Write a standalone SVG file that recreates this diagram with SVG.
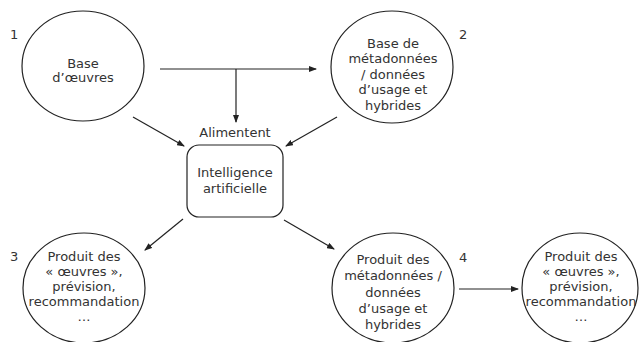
<svg xmlns="http://www.w3.org/2000/svg" width="640" height="342" viewBox="0 0 640 342">
<defs>
<marker id="ah" markerWidth="8" markerHeight="6" refX="7" refY="3" orient="auto" markerUnits="userSpaceOnUse">
<path d="M0,0 L8,3 L0,6 Z" fill="#222"/>
</marker>
<style>
.n{fill:#fff;stroke:#222;stroke-width:1.2}
.t{font-family:"DejaVu Sans",sans-serif;font-size:13px;fill:#333;text-anchor:middle}
.num{font-family:"DejaVu Sans",sans-serif;font-size:13px;fill:#333}
.c{stroke:#222;stroke-width:1.2;fill:none}
.a{marker-end:url(#ah)}
</style>
</defs>
<rect width="640" height="342" fill="#fff"/>
<g id="connectors">
<line class="c a" x1="160" y1="69" x2="316" y2="69"/>
<line class="c a" x1="236" y1="69" x2="236" y2="122"/>
<line class="c a" x1="133" y1="117" x2="184" y2="146"/>
<line class="c a" x1="337" y1="117" x2="286" y2="146"/>
<line class="c a" x1="183" y1="219" x2="145" y2="250"/>
<line class="c a" x1="284" y1="220" x2="334" y2="249"/>
<line class="c a" x1="459" y1="289" x2="518" y2="289"/>
<text class="t" x="235" y="137">Alimentent</text>
</g>
<g id="n1">
<ellipse class="n" cx="83" cy="66" rx="61" ry="55"/>
<text class="t" x="83" y="68">Base</text>
<text class="t" x="83" y="82">d’œuvres</text>
<text class="num" x="10" y="39">1</text>
</g>
<g id="n2">
<ellipse class="n" cx="392" cy="67" rx="61" ry="56"/>
<text class="t" x="393" y="48">Base de</text>
<text class="t" x="393" y="63">métadonnées</text>
<text class="t" x="393" y="79">/ données</text>
<text class="t" x="393" y="94">d’usage et</text>
<text class="t" x="393" y="110">hybrides</text>
<text class="num" x="459" y="39">2</text>
</g>
<g id="ia">
<rect class="n" x="187" y="145" width="96" height="72" rx="12"/>
<text class="t" x="235" y="177">Intelligence</text>
<text class="t" x="235" y="193">artificielle</text>
</g>
<g id="n3">
<ellipse class="n" cx="84" cy="288" rx="61" ry="55"/>
<text class="t" x="84" y="261">Produit des</text>
<text class="t" x="84" y="276">« œuvres »,</text>
<text class="t" x="84" y="291">prévision,</text>
<text class="t" x="84" y="306">recommandation</text>
<text class="t" x="84" y="321">…</text>
<text class="num" x="10" y="261">3</text>
</g>
<g id="n4">
<ellipse class="n" cx="393" cy="288" rx="61" ry="55"/>
<text class="t" x="393" y="264">Produit des</text>
<text class="t" x="393" y="280">métadonnées /</text>
<text class="t" x="393" y="297">données</text>
<text class="t" x="393" y="313">d’usage et</text>
<text class="t" x="393" y="329">hybrides</text>
<text class="num" x="459" y="262">4</text>
</g>
<g id="n5">
<ellipse class="n" cx="580" cy="288" rx="58" ry="55"/>
<text class="t" x="581" y="261">Produit des</text>
<text class="t" x="581" y="276">« œuvres »,</text>
<text class="t" x="581" y="291">prévision,</text>
<text class="t" x="581" y="306">recommandation</text>
<text class="t" x="581" y="321">…</text>
</g>
</svg>
